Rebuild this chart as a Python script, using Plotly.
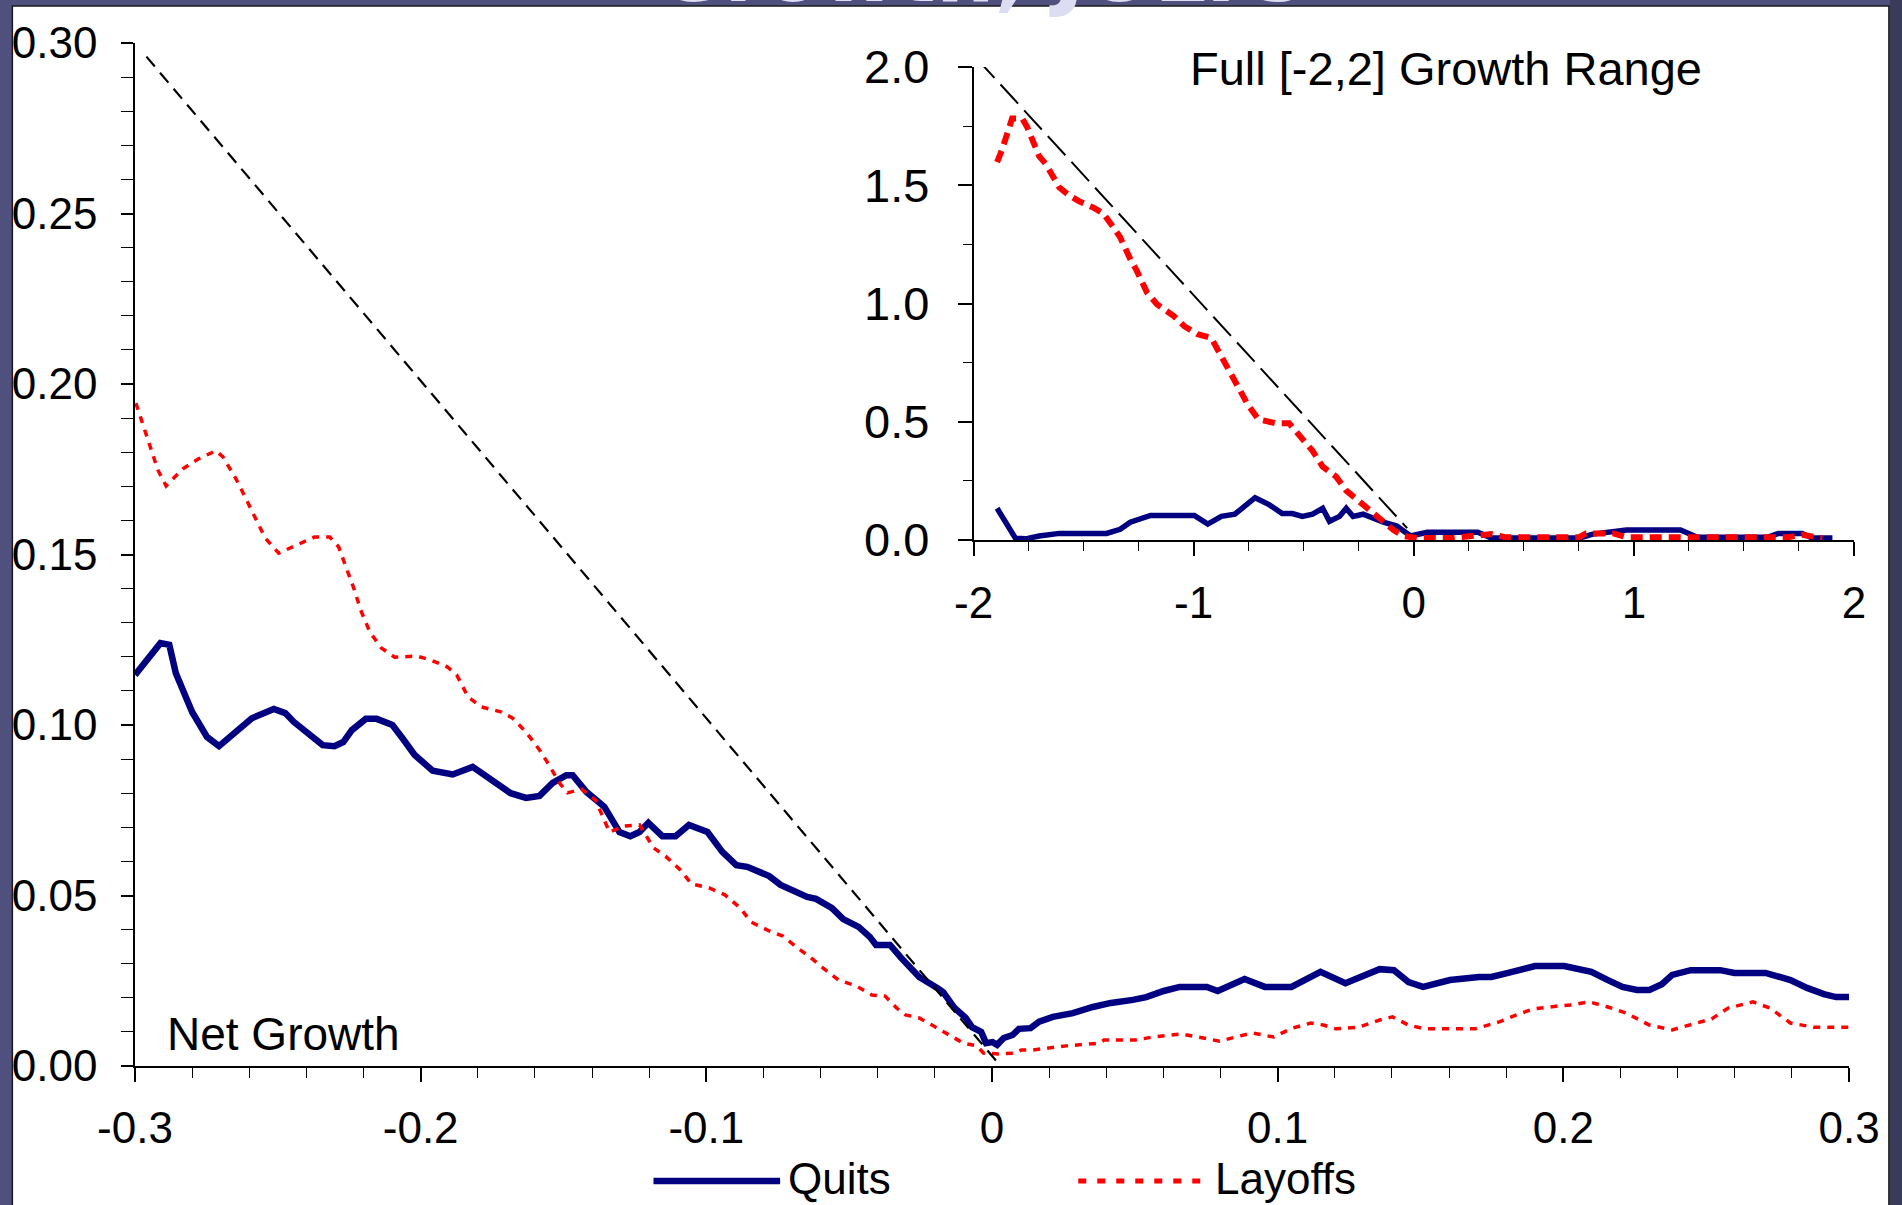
import plotly.graph_objects as go

# ---------------- data ----------------
quits_x = [-0.300, -0.2911, -0.2880, -0.2857, -0.2800, -0.2748, -0.2706, -0.2654, -0.2591, -0.2514,
           -0.2474, -0.2444, -0.2388, -0.2343, -0.2302, -0.2271, -0.2241, -0.2192, -0.2154, -0.2099,
           -0.2059, -0.2021, -0.1958, -0.1888, -0.1818, -0.1748, -0.1685, -0.1631, -0.1584, -0.1538,
           -0.1490, -0.1468, -0.1420, -0.1357, -0.1304, -0.1266, -0.1234, -0.1203, -0.1154, -0.1108,
           -0.1061, -0.0996, -0.0944, -0.0895, -0.0857, -0.0780, -0.0740, -0.0647, -0.0616, -0.0560,
           -0.0521, -0.0467, -0.0427, -0.0406, -0.0357, -0.0318, -0.0255, -0.0192, -0.0171, -0.0131,
           -0.0092, -0.0070, -0.0038, -0.0021, 0.0002, 0.0018, 0.0041, 0.0072, 0.0094, 0.0135,
           0.0165, 0.0213, 0.0283, 0.0353, 0.0416, 0.0493, 0.0540, 0.0601, 0.0657, 0.0752,
           0.0790, 0.0884, 0.0955, 0.1048, 0.1150, 0.1237, 0.1297, 0.1357, 0.1407, 0.1458,
           0.1509, 0.1603, 0.1705, 0.1748, 0.1807, 0.1901, 0.2003, 0.2098, 0.2156, 0.2207,
           0.2258, 0.2301, 0.2345, 0.2381, 0.2446, 0.2549, 0.2599, 0.2708, 0.2795, 0.2853,
           0.2912, 0.2955, 0.3000]
quits_y = [0.1147, 0.1240, 0.1235, 0.1152, 0.1038, 0.0965, 0.0938, 0.0976, 0.1020, 0.1047,
           0.1035, 0.1009, 0.0971, 0.0941, 0.0938, 0.0950, 0.0985, 0.1018, 0.1018, 0.1000,
           0.0956, 0.0912, 0.0866, 0.0855, 0.0877, 0.0839, 0.0800, 0.0786, 0.0792, 0.0830,
           0.0853, 0.0853, 0.0804, 0.0760, 0.0686, 0.0674, 0.0686, 0.0713, 0.0674, 0.0674,
           0.0707, 0.0686, 0.0628, 0.0589, 0.0584, 0.0557, 0.0531, 0.0496, 0.0490, 0.0463,
           0.0431, 0.0408, 0.0378, 0.0355, 0.0355, 0.0317, 0.0261, 0.0229, 0.0217, 0.0170,
           0.0141, 0.0114, 0.0100, 0.0067, 0.0070, 0.0062, 0.0082, 0.0091, 0.0109, 0.0111,
           0.0130, 0.0144, 0.0155, 0.0173, 0.0185, 0.0194, 0.0202, 0.0220, 0.0232, 0.0232,
           0.0220, 0.0255, 0.0232, 0.0232, 0.0276, 0.0243, 0.0261, 0.0284, 0.0281, 0.0246,
           0.0232, 0.0252, 0.0261, 0.0261, 0.0273, 0.0293, 0.0293, 0.0276, 0.0252, 0.0232,
           0.0223, 0.0223, 0.0240, 0.0267, 0.0281, 0.0281, 0.0273, 0.0273, 0.0252, 0.0229,
           0.0211, 0.0202, 0.0202]

layoffs_x = [-0.2997, -0.2969, -0.2942, -0.2920, -0.2891, -0.2833, -0.2779, -0.2717, -0.2692, -0.2646,
             -0.2615, -0.2583, -0.2544, -0.2497, -0.2435, -0.2372, -0.2318, -0.2287, -0.2260, -0.2232,
             -0.2210, -0.2178, -0.2138, -0.2091, -0.2014, -0.1966, -0.1906, -0.1874, -0.1834, -0.1787,
             -0.1717, -0.1678, -0.1631, -0.1584, -0.1553, -0.1514, -0.1486, -0.1437, -0.1388, -0.1366,
             -0.1339, -0.1287, -0.1234, -0.1185, -0.1140, -0.1091, -0.1052, -0.0990, -0.0935, -0.0881,
             -0.0843, -0.0780, -0.0732, -0.0685, -0.0638, -0.0591, -0.0537, -0.0475, -0.0420, -0.0374,
             -0.0334, -0.0303, -0.0255, -0.0210, -0.0147, -0.0100, -0.0053, -0.0030, 0.0024, 0.0079,
             0.0103, 0.0142, 0.0259, 0.0376, 0.0392, 0.0502, 0.0563, 0.0664, 0.0720, 0.0797,
             0.0853, 0.0910, 0.0986, 0.1051, 0.1116, 0.1160, 0.1203, 0.1283, 0.1357, 0.1402,
             0.1458, 0.1516, 0.1690, 0.1778, 0.1836, 0.1894, 0.1981, 0.2025, 0.2091, 0.2156,
             0.2221, 0.2301, 0.2381, 0.2446, 0.2519, 0.2577, 0.2664, 0.2723, 0.2795, 0.2875,
             0.3000]
layoffs_y = [0.1944, 0.1874, 0.1806, 0.1748, 0.1701, 0.1751, 0.1780, 0.1804, 0.1786, 0.1721,
             0.1669, 0.1616, 0.1548, 0.1504, 0.1528, 0.1551, 0.1551, 0.1522, 0.1460, 0.1396,
             0.1337, 0.1273, 0.1226, 0.1199, 0.1202, 0.1191, 0.1170, 0.1147, 0.1082, 0.1053,
             0.1038, 0.1020, 0.0979, 0.0927, 0.0886, 0.0830, 0.0801, 0.0812, 0.0780, 0.0736,
             0.0686, 0.0704, 0.0707, 0.0640, 0.0613, 0.0575, 0.0534, 0.0522, 0.0502, 0.0463,
             0.0422, 0.0396, 0.0381, 0.0349, 0.0320, 0.0287, 0.0252, 0.0235, 0.0208, 0.0205,
             0.0170, 0.0150, 0.0141, 0.0120, 0.0091, 0.0067, 0.0059, 0.0038, 0.0035, 0.0038,
             0.0047, 0.0047, 0.0059, 0.0067, 0.0076, 0.0076, 0.0085, 0.0094, 0.0085, 0.0073,
             0.0085, 0.0097, 0.0085, 0.0111, 0.0126, 0.0120, 0.0109, 0.0114, 0.0135, 0.0144,
             0.0120, 0.0109, 0.0109, 0.0130, 0.0150, 0.0167, 0.0176, 0.0179, 0.0188, 0.0173,
             0.0155, 0.0120, 0.0106, 0.0120, 0.0138, 0.0170, 0.0188, 0.0170, 0.0126, 0.0114,
             0.0114]

diag_x = [-0.296, 0.002]
diag_y = [0.296, 0.001]

inset_quits_x = [-1.893, -1.856, -1.810, -1.764, -1.702, -1.610, -1.396, -1.334, -1.288, -1.196,
                 -0.997, -0.936, -0.874, -0.813, -0.767, -0.721, -0.660, -0.598, -0.552, -0.506,
                 -0.460, -0.414, -0.383, -0.337, -0.307, -0.276, -0.230, -0.184, -0.138, -0.077,
                 -0.015, 0.061, 0.291, 0.353, 0.752, 0.813, 0.966, 1.212, 1.288, 1.610,
                 1.656, 1.764, 1.810, 1.902]
inset_quits_y = [0.134, 0.075, 0.008, 0.005, 0.017, 0.028, 0.028, 0.045, 0.075, 0.104,
                 0.104, 0.067, 0.100, 0.109, 0.142, 0.179, 0.151, 0.112, 0.112, 0.100,
                 0.109, 0.134, 0.079, 0.100, 0.134, 0.100, 0.109, 0.092, 0.075, 0.059,
                 0.017, 0.033, 0.033, 0.008, 0.008, 0.025, 0.042, 0.042, 0.012, 0.012,
                 0.028, 0.028, 0.008, 0.008]

inset_layoffs_x = [-1.893, -1.871, -1.825, -1.779, -1.758, -1.702, -1.672, -1.610, -1.564, -1.518,
                   -1.457, -1.411, -1.365, -1.334, -1.288, -1.258, -1.212, -1.166, -1.089, -1.043,
                   -0.982, -0.920, -0.890, -0.844, -0.798, -0.752, -0.706, -0.629, -0.567, -0.521,
                   -0.460, -0.414, -0.353, -0.307, -0.245, -0.184, -0.138, -0.092, -0.046, 0.015,
                   0.169, 0.353, 0.414, 0.752, 0.782, 0.905, 0.966, 1.702, 1.764, 1.856]
inset_layoffs_y = [1.598, 1.649, 1.782, 1.782, 1.749, 1.623, 1.590, 1.490, 1.456, 1.431,
                   1.406, 1.381, 1.322, 1.280, 1.188, 1.138, 1.046, 0.996, 0.946, 0.904,
                   0.870, 0.854, 0.803, 0.728, 0.653, 0.569, 0.510, 0.494, 0.494, 0.444,
                   0.377, 0.310, 0.268, 0.209, 0.159, 0.109, 0.075, 0.042, 0.017, 0.008,
                   0.008, 0.025, 0.012, 0.012, 0.028, 0.028, 0.012, 0.012, 0.022, 0.008]

inset_diag_x = [-1.985, -0.03]
inset_diag_y = [2.035, 0.05]

main_xtick_vals = [-0.3, -0.2, -0.1, 0.0, 0.1, 0.2, 0.3]
main_xtick_text = ["-0.3", "-0.2", "-0.1", "0", "0.1", "0.2", "0.3"]
main_ytick_vals = [0.0, 0.05, 0.10, 0.15, 0.20, 0.25, 0.30]
main_ytick_text = ["0.00", "0.05", "0.10", "0.15", "0.20", "0.25", "0.30"]
inset_xtick_vals = [-2, -1, 0, 1, 2]
inset_xtick_text = ["-2", "-1", "0", "1", "2"]
inset_ytick_vals = [0.0, 0.5, 1.0, 1.5, 2.0]
inset_ytick_text = ["0.0", "0.5", "1.0", "1.5", "2.0"]

series_names = ["Quits", "Layoffs"]
panel_label = "Net Growth"
inset_label = "Full [-2,2] Growth Range"
title_fragment = "Growth, JOLTS"

# ---------------- layout geometry (pixels) ----------------
W, H = 1902, 1205
ML, MR, MT, MB = 130, 48, 43, 139
PW = W - ML - MR
PH = H - MT - MB


def px(p):
    return (p - ML) / PW


def py(q):
    return (H - MB - q) / PH


FONT = "Liberation Sans, Arial, sans-serif"
NAVY = "#000080"
RED = "#ff0000"

fig = go.Figure()

fig.add_trace(go.Scatter(x=quits_x, y=quits_y, mode="lines", name=series_names[0],
                         line=dict(color=NAVY, width=6.5), xaxis="x", yaxis="y", showlegend=False))
fig.add_trace(go.Scatter(x=layoffs_x, y=layoffs_y, mode="lines", name=series_names[1],
                         line=dict(color=RED, width=3.5, dash="7px,7px"), xaxis="x", yaxis="y",
                         showlegend=False))
fig.add_trace(go.Scatter(x=diag_x, y=diag_y, mode="lines", line=dict(color="black", width=2.2, dash="13px,8px"),
                         xaxis="x", yaxis="y", showlegend=False))

fig.add_trace(go.Scatter(x=inset_quits_x, y=inset_quits_y, mode="lines",
                         line=dict(color=NAVY, width=5.5), xaxis="x2", yaxis="y2", showlegend=False))
fig.add_trace(go.Scatter(x=inset_layoffs_x, y=inset_layoffs_y, mode="lines",
                         line=dict(color=RED, width=6, dash="12px,7px"), xaxis="x2", yaxis="y2",
                         showlegend=False))
fig.add_trace(go.Scatter(x=inset_diag_x, y=inset_diag_y, mode="lines",
                         line=dict(color="black", width=2, dash="26px,9px"), xaxis="x2", yaxis="y2",
                         showlegend=False))

axis_common = dict(showgrid=False, zeroline=False, showline=True, linecolor="black", linewidth=1.5,
                   ticks="outside", tickcolor="black", tickwidth=1.5, color="black")

fig.update_layout(
    width=W, height=H,
    margin=dict(l=ML, r=MR, t=MT, b=MB),
    paper_bgcolor="#50507e",
    plot_bgcolor="rgba(0,0,0,0)",
    font=dict(family=FONT, color="black"),
    showlegend=False,
    xaxis=dict(domain=[0, (1849 - ML) / PW], range=[-0.3, 0.3], anchor="y",
               tickvals=main_xtick_vals, ticktext=main_xtick_text, ticklen=14,
               tickfont=dict(size=44, family=FONT), ticklabelstandoff=8,
               minor=dict(dtick=0.02, tick0=0, ticks="outside", ticklen=10, tickcolor="black", tickwidth=1.2),
               **axis_common),
    yaxis=dict(domain=[0, 1], range=[0, 0.30], anchor="x",
               tickvals=main_ytick_vals, ticktext=main_ytick_text, ticklen=12,
               tickfont=dict(size=44, family=FONT), ticklabelstandoff=15,
               minor=dict(dtick=0.01, tick0=0, ticks="outside", ticklen=12, tickcolor="black", tickwidth=1.2),
               **axis_common),
    xaxis2=dict(domain=[px(971), 1.0], range=[-2, 2], anchor="y2",
                tickvals=inset_xtick_vals, ticktext=inset_xtick_text, ticklen=14,
                tickfont=dict(size=44, family=FONT), ticklabelstandoff=9,
                minor=dict(dtick=0.25, tick0=0, ticks="outside", ticklen=9, tickcolor="black", tickwidth=1.2),
                **axis_common),
    yaxis2=dict(domain=[py(540), py(67)], range=[0, 2.0], anchor="x2",
                tickvals=inset_ytick_vals, ticktext=inset_ytick_text, ticklen=14,
                tickfont=dict(size=47, family=FONT), ticklabelstandoff=19,
                minor=dict(dtick=0.25, tick0=0, ticks="outside", ticklen=9, tickcolor="black", tickwidth=1.2),
                **axis_common),
)

shapes = [
    # white slide panel
    dict(type="rect", xref="paper", yref="paper", x0=px(7), x1=px(1889), y0=py(1230), y1=py(6),
         fillcolor="white", line=dict(color="#1a1a1a", width=1.5), layer="below"),
    # darker right margin of slide
    dict(type="rect", xref="paper", yref="paper", x0=px(1890), x1=px(1910), y0=py(1230), y1=py(-10),
         fillcolor="#3a3a5a", line=dict(width=0), layer="below"),
    # legend samples
    dict(type="line", xref="paper", yref="paper", x0=px(650), x1=px(777), y0=py(1181), y1=py(1181),
         line=dict(color=NAVY, width=6.5)),
    dict(type="line", xref="paper", yref="paper", x0=px(1076), x1=px(1201), y0=py(1181), y1=py(1181),
         line=dict(color=RED, width=5, dash="8px,11px")),
]

annotations = [
    dict(text=panel_label, xref="paper", yref="paper", x=px(160), y=py(1034), xanchor="left",
         yanchor="middle", showarrow=False, font=dict(size=46, family=FONT, color="black")),
    dict(text=inset_label, xref="paper", yref="paper", x=px(1186), y=py(69), xanchor="left",
         yanchor="middle", showarrow=False, font=dict(size=47, family=FONT, color="black")),
    dict(text=series_names[0], xref="paper", yref="paper", x=px(783), y=py(1178), xanchor="left",
         yanchor="middle", showarrow=False, font=dict(size=44, family=FONT, color="black")),
    dict(text=series_names[1], xref="paper", yref="paper", x=px(1211), y=py(1178), xanchor="left",
         yanchor="middle", showarrow=False, font=dict(size=44, family=FONT, color="black")),
    dict(text="<b>" + title_fragment + "</b>", xref="paper", yref="paper", x=px(652), y=py(22),
         xanchor="left", yanchor="bottom", showarrow=False,
         font=dict(size=82, family="DejaVu Sans, sans-serif", color="#dcdcf2")),
]

fig.update_layout(shapes=shapes, annotations=annotations)

fig.write_html("out.html")
